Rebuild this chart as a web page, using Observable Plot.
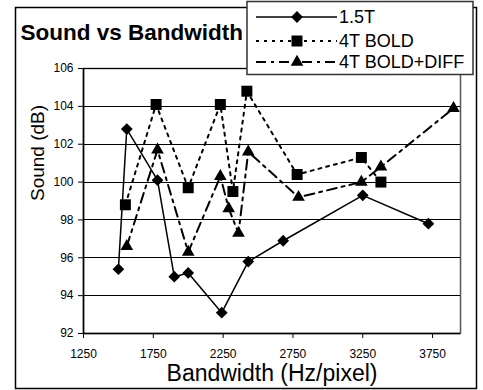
<!DOCTYPE html>
<html><head><meta charset="utf-8">
<script src="https://cdn.jsdelivr.net/npm/d3@7"></script>
<script src="https://cdn.jsdelivr.net/npm/@observablehq/plot@0.6"></script>
<style>body{margin:0;background:#fff}#chart{width:483px;height:390px}</style>
</head><body><div id="chart"></div>
<script>
const seriesNames = ["1.5T", "4T BOLD", "4T BOLD+DIFF"];
const bw15T = [1500, 1560, 1780, 1900, 2000, 2240, 2430, 2680, 3250, 3720];
const snd15T = [95.4, 102.8, 100.1, 95.0, 95.2, 93.1, 95.8, 96.9, 99.3, 97.8];
const bwBold = [1550, 1770, 2000, 2230, 2320, 2420, 2780, 3240, 3380];
const sndBold = [98.8, 104.1, 99.7, 104.1, 99.5, 104.8, 100.4, 101.3, 100.0];
const bwDiff = [1560, 1780, 2000, 2230, 2290, 2360, 2430, 2790, 3240, 3380, 3900];
const sndDiff = [96.6, 101.7, 96.3, 100.3, 98.6, 97.3, 101.6, 99.2, 100.0, 100.8, 103.9];
const xTicks = [1250, 1750, 2250, 2750, 3250, 3750];
const yTicks = [92, 94, 96, 98, 100, 102, 104, 106];
const titleText = "Sound vs Bandwidth";
const xLabel = "Bandwidth (Hz/pixel)";
const yLabel = "Sound (dB)";

const toRows = (xs, ys) => xs.map((x, i) => ({x, y: ys[i]}));
const d15 = toRows(bw15T, snd15T);
const dBold = toRows(bwBold, sndBold);
const dDiff = toRows(bwDiff, sndDiff);

const styles = [
  {dash: null, symbol: "diamond2", r: 5.3, d3sym: d3.symbolDiamond2},
  {dash: "3,5", symbol: "square", r: 6.2, d3sym: d3.symbolSquare},
  {dash: "10,5,3,5", symbol: "triangle", r: 4.7, d3sym: d3.symbolTriangle}
];
const font = "'Liberation Sans', Arial, sans-serif";

const chart = Plot.plot({
  width: 483, height: 390,
  marginLeft: 83, marginRight: 23, marginTop: 68, marginBottom: 57,
  x: {domain: [1250, 3950]},
  y: {domain: [92, 106]},
  style: {fontFamily: font, background: "white", color: "black"},
  marks: [
    Plot.frame({stroke: "#555", strokeWidth: 1.5}),
    Plot.ruleY(yTicks, {stroke: "black", strokeWidth: 1, shapeRendering: "crispEdges"}),
    Plot.axisX({ticks: xTicks, tickSize: 5, tickPadding: 11, fontSize: 12, label: null, tickFormat: d => String(d)}),
    Plot.axisY({ticks: yTicks, tickSize: 5, tickPadding: 5, fontSize: 12, label: null}),
    Plot.ruleX([1250], {stroke: "black", strokeWidth: 1.5}),
    Plot.ruleY([92], {stroke: "black", strokeWidth: 1.5}),
    Plot.line(d15, {x: "x", y: "y", stroke: "black", strokeWidth: 1.5}),
    Plot.line(dBold, {x: "x", y: "y", stroke: "black", strokeWidth: 2, strokeDasharray: styles[1].dash}),
    Plot.line(dDiff, {x: "x", y: "y", stroke: "black", strokeWidth: 2, strokeDasharray: styles[2].dash}),
    Plot.dot(d15, {x: "x", y: "y", symbol: styles[0].symbol, r: styles[0].r, fill: "black"}),
    Plot.dot(dBold, {x: "x", y: "y", symbol: styles[1].symbol, r: styles[1].r, fill: "black"}),
    Plot.dot(dDiff, {x: "x", y: "y", symbol: styles[2].symbol, r: styles[2].r, fill: "black"}),
    Plot.text([titleText], {frameAnchor: "top-left", dx: -63, dy: -36, textAnchor: "start", lineAnchor: "middle", fontSize: 22.5, fontWeight: "bold"}),
    Plot.text([xLabel], {frameAnchor: "bottom", dy: 40, lineAnchor: "middle", fontSize: 23}),
    Plot.text([yLabel], {frameAnchor: "left", dx: -46, rotate: -90, lineAnchor: "middle", fontSize: 19})
  ]
});
document.getElementById("chart").appendChild(chart);

const svg = d3.select(chart);
svg.append("rect").attr("x", 15.5).attr("y", 7.5).attr("width", 461).attr("height", 381)
  .attr("fill", "none").attr("stroke", "black").attr("stroke-width", 1.5);
const lg = svg.append("g");
lg.append("rect").attr("x", 247).attr("y", 1.5).attr("width", 226).attr("height", 73)
  .attr("fill", "white").attr("stroke", "#333").attr("stroke-width", 1.5);
const rowsY = [17, 41, 62];
seriesNames.forEach((name, i) => {
  const st = styles[i];
  const y = rowsY[i];
  lg.append("line").attr("x1", 256).attr("x2", 337).attr("y1", y).attr("y2", y)
    .attr("stroke", "black").attr("stroke-width", i === 0 ? 1.5 : 2)
    .attr("stroke-dasharray", st.dash);
  lg.append("path").attr("transform", `translate(297,${y})`)
    .attr("d", d3.symbol(st.d3sym, Math.PI * st.r * st.r)()).attr("fill", "black");
  lg.append("text").attr("x", 339).attr("y", y).attr("dy", "0.35em")
    .attr("text-anchor", "start")
    .attr("font-size", 18).attr("font-family", font).attr("fill", "black").text(name);
});
</script></body></html>
